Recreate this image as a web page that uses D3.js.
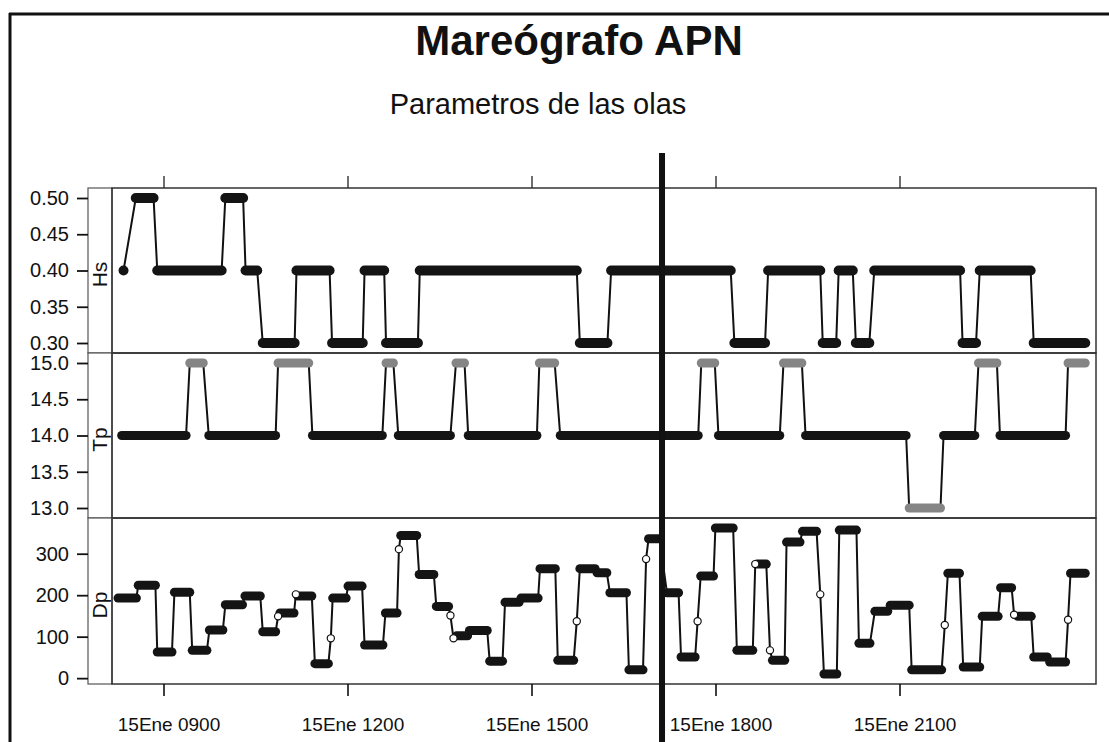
<!DOCTYPE html>
<html><head><meta charset="utf-8">
<script src="https://cdn.jsdelivr.net/npm/d3@7"></script>
<style>body{margin:0;background:#fff}</style></head>
<body><svg id="c" width="1109" height="742"></svg>
<script>
// ---- data (hours of 15 Ene) ----
const tickHours = [9, 12, 15, 18, 21];
const tickLabels = ["15Ene 0900", "15Ene 1200", "15Ene 1500", "15Ene 1800", "15Ene 2100"];
const hsTicks = [0.30, 0.35, 0.40, 0.45, 0.50];
const tpTicks = [13.0, 13.5, 14.0, 14.5, 15.0];
const dpTicks = [0, 100, 200, 300];

// plateaus: [start hour, end hour, value]
const hsSteps = [
  [8.34, 8.34, 0.40], [8.54, 8.83, 0.50], [8.89, 9.94, 0.40], [10.00, 10.29, 0.50],
  [10.33, 10.52, 0.40], [10.61, 11.13, 0.30], [11.16, 11.70, 0.40], [11.74, 12.24, 0.30],
  [12.27, 12.59, 0.40], [12.62, 13.14, 0.30], [13.17, 15.73, 0.40], [15.78, 16.23, 0.30],
  [16.29, 18.24, 0.40], [18.30, 18.80, 0.30], [18.85, 19.70, 0.40], [19.74, 19.96, 0.30],
  [20.00, 20.23, 0.40], [20.28, 20.50, 0.30], [20.58, 21.98, 0.40], [22.02, 22.24, 0.30],
  [22.30, 23.13, 0.40], [23.18, 24.02, 0.30]
];
const tpSteps = [
  [8.31, 9.36, 14.0], [9.42, 9.64, 15.0], [9.73, 10.82, 14.0], [10.86, 11.36, 15.0],
  [11.42, 12.56, 14.0], [12.62, 12.74, 15.0], [12.82, 13.67, 14.0], [13.76, 13.90, 15.0],
  [13.96, 15.08, 14.0], [15.12, 15.37, 15.0], [15.46, 17.71, 14.0], [17.76, 17.98, 15.0],
  [18.04, 19.04, 14.0], [19.10, 19.40, 15.0], [19.46, 21.10, 14.0], [21.15, 21.66, 13.0],
  [21.71, 22.22, 14.0], [22.28, 22.58, 15.0], [22.63, 23.70, 14.0], [23.74, 24.02, 15.0]
];
const dpSteps = [
  [8.25, 8.55, 193], [8.58, 8.86, 224], [8.89, 9.13, 63], [9.17, 9.42, 207],
  [9.46, 9.70, 67], [9.74, 9.96, 116], [10.00, 10.28, 177], [10.32, 10.57, 198],
  [10.61, 10.82, 112], [10.89, 11.12, 157], [11.18, 11.41, 198], [11.46, 11.68, 35],
  [11.75, 11.97, 193], [12.00, 12.23, 222], [12.27, 12.57, 80], [12.61, 12.80, 157],
  [12.86, 13.12, 344], [13.16, 13.40, 250], [13.44, 13.64, 173], [13.77, 13.95, 102],
  [13.98, 14.27, 115], [14.31, 14.52, 41], [14.56, 14.79, 183], [14.82, 15.10, 193],
  [15.13, 15.38, 264], [15.42, 15.68, 43], [15.78, 16.03, 264], [16.06, 16.22, 254],
  [16.27, 16.54, 206], [16.58, 16.81, 20], [16.90, 17.08, 336], [17.20, 17.39, 206],
  [17.43, 17.66, 51], [17.75, 17.96, 246], [17.99, 18.28, 362], [18.34, 18.60, 67],
  [18.67, 18.82, 275], [18.92, 19.12, 43], [19.15, 19.37, 328], [19.41, 19.64, 354],
  [19.76, 19.97, 10], [20.01, 20.29, 357], [20.33, 20.51, 84], [20.59, 20.80, 161],
  [20.84, 21.15, 176], [21.19, 21.68, 20], [21.78, 21.97, 253], [22.03, 22.30, 27],
  [22.34, 22.60, 149], [22.64, 22.82, 218], [22.92, 23.14, 149], [23.18, 23.40, 51],
  [23.44, 23.70, 39], [23.78, 24.02, 253]
];
// intermediate (open) points on Dp transitions: [hour, value]
const dpOpen = [
  [10.86, 149], [11.15, 202], [11.72, 96], [12.83, 311], [13.67, 151], [13.72, 96],
  [15.73, 137], [16.86, 287], [17.70, 137], [18.64, 275], [18.88, 67], [19.70, 202],
  [21.73, 128], [22.86, 153], [23.74, 141]
];

// ---- layout ----
const svg = d3.select("#c");
const W = 1109, H = 742;
const stripL = 88, plotL = 112, plotR = 1096;
const panels = [
  { name: "Hs", steps: hsSteps, open: [], ticks: hsTicks, fmt: d3.format(".2f"), y0: 188, y1: 353 },
  { name: "Tp", steps: tpSteps, open: [], ticks: tpTicks, fmt: d3.format(".1f"), y0: 353, y1: 518 },
  { name: "Dp", steps: dpSteps, open: dpOpen, ticks: dpTicks, fmt: d3.format("d"), y0: 518, y1: 684 }
];
const x = d3.scaleLinear().domain([9, 21]).range([164, 900]);

const labelFont = "'Liberation Sans', Arial, sans-serif";

// outer frame
svg.append("line").attr("x1", 10).attr("x2", 10).attr("y1", 13).attr("y2", H).attr("stroke", "#111").attr("stroke-width", 3);
svg.append("line").attr("x1", 9).attr("x2", W).attr("y1", 14).attr("y2", 14).attr("stroke", "#111").attr("stroke-width", 3);

// titles
svg.append("text").attr("x", 579).attr("y", 55).attr("text-anchor", "middle")
  .attr("font-family", labelFont).attr("font-weight", "bold").attr("font-size", 42).attr("fill", "#111")
  .text("Mareógrafo APN");
svg.append("text").attr("x", 538).attr("y", 114).attr("text-anchor", "middle")
  .attr("font-family", labelFont).attr("font-size", 29).attr("fill", "#111")
  .text("Parametros de las olas");

panels.forEach(p => {
  const all = p.steps.map(d => d[2]).concat(p.open.map(d => d[1]));
  const y = d3.scaleLinear().domain(d3.extent(all)).range([p.y1 - 10, p.y0 + 10]);
  const g = svg.append("g");

  // strip box
  g.append("rect").attr("x", stripL).attr("y", p.y0).attr("width", plotL - stripL).attr("height", p.y1 - p.y0)
    .attr("fill", "#fff").attr("stroke", "#555").attr("stroke-width", 1.2);
  g.append("text").attr("transform", `translate(${(stripL + plotL) / 2 + 7},${(p.y0 + p.y1) / 2 + 4}) rotate(-90)`)
    .attr("text-anchor", "middle").attr("font-family", labelFont).attr("font-size", 21).attr("fill", "#111").text(p.name);

  // plot frame
  g.append("rect").attr("x", plotL).attr("y", p.y0).attr("width", plotR - plotL).attr("height", p.y1 - p.y0)
    .attr("fill", "none").attr("stroke", "#333").attr("stroke-width", 1.5);

  // y axis
  const ay = g.append("g").attr("transform", `translate(${stripL},0)`)
    .call(d3.axisLeft(y).tickValues(p.ticks).tickFormat(p.fmt).tickSize(11).tickPadding(8));
  ay.select(".domain").remove();
  ay.selectAll("line").attr("stroke", "#111").attr("stroke-width", 1.8);
  ay.selectAll("text").attr("font-family", labelFont).attr("font-size", 20).attr("fill", "#111");

  // connecting line
  const pts = [];
  p.steps.forEach(d => { pts.push([d[0], d[2]]); pts.push([d[1], d[2]]); });
  p.open.forEach(d => pts.push([d[0], d[1]]));
  pts.sort((a, b) => a[0] - b[0]);
  g.append("path").datum(pts)
    .attr("d", d3.line().x(d => x(d[0])).y(d => y(d[1])))
    .attr("fill", "none").attr("stroke", "#111").attr("stroke-width", 2);

  // plateaus (overlapping sample points)
  g.selectAll(".plat").data(p.steps).join("line")
    .attr("x1", d => x(d[0])).attr("x2", d => x(d[1]))
    .attr("y1", d => y(d[2])).attr("y2", d => y(d[2]))
    .attr("stroke", d => (p.name === "Tp" && d[2] !== 14) ? "#858585" : "#141414")
    .attr("stroke-width", p.name === "Hs" ? 10 : 9)
    .attr("stroke-linecap", "round");

  // open points
  g.selectAll(".op").data(p.open).join("circle")
    .attr("cx", d => x(d[0])).attr("cy", d => y(d[1])).attr("r", 3.6)
    .attr("fill", "#fff").attr("stroke", "#111").attr("stroke-width", 1.2);
});

// x axis ticks top and bottom
const yTop = panels[0].y0, yBot = panels[2].y1;
tickHours.forEach((h, i) => {
  svg.append("line").attr("x1", x(h)).attr("x2", x(h)).attr("y1", yTop).attr("y2", yTop - 12)
    .attr("stroke", "#333").attr("stroke-width", 1.4);
  svg.append("line").attr("x1", x(h)).attr("x2", x(h)).attr("y1", yBot).attr("y2", yBot + 12)
    .attr("stroke", "#111").attr("stroke-width", 1.6);
  svg.append("text").attr("x", x(h) + 5).attr("y", 731).attr("text-anchor", "middle")
    .attr("font-family", labelFont).attr("font-size", 19).attr("fill", "#111").text(tickLabels[i]);
});

// thick vertical marker line
svg.append("line").attr("x1", x(17.12)).attr("x2", x(17.12)).attr("y1", 153).attr("y2", H)
  .attr("stroke", "#111").attr("stroke-width", 6);
</script></body></html>
